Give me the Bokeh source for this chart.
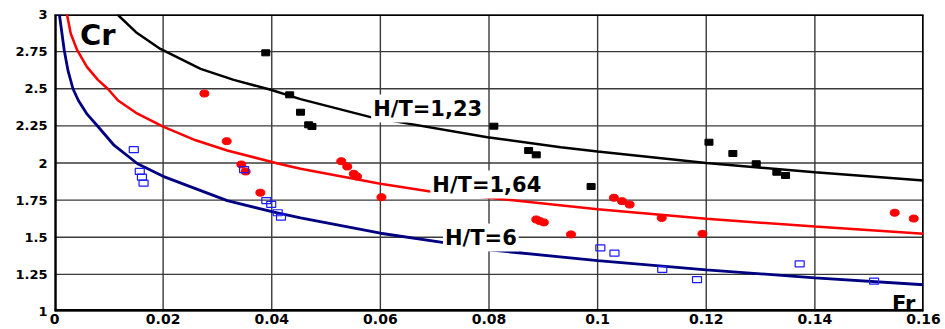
from bokeh.plotting import figure
from bokeh.models import FixedTicker, Label
from bokeh.embed import file_html
from bokeh.resources import INLINE

# ---- tick labels ----
x_ticks = [0, 0.02, 0.04, 0.06, 0.08, 0.1, 0.12, 0.14, 0.16]
x_tick_labels = ["0", "0.02", "0.04", "0.06", "0.08", "0.1", "0.12", "0.14", "0.16"]
y_ticks = [1, 1.25, 1.5, 1.75, 2, 2.25, 2.5, 2.75, 3]
y_tick_labels = ["1", "1.25", "1.5", "1.75", "2", "2.25", "2.5", "2.75", "3"]

# ---- curves ----
curve_123_fr = [0.0116, 0.015, 0.0195, 0.0269, 0.033, 0.0398, 0.0453, 0.0582, 0.0797, 0.0932, 0.100, 0.120, 0.140, 0.160]
curve_123_cr = [3.0, 2.881, 2.768, 2.634, 2.56, 2.493, 2.43, 2.309, 2.174, 2.106, 2.077, 2.000, 1.938, 1.882]

curve_164_fr = [0.0023, 0.003, 0.0042, 0.006, 0.008, 0.0098, 0.0117, 0.015, 0.020, 0.026, 0.0318, 0.0413, 0.0453, 0.060, 0.0689, 0.080, 0.100, 0.120, 0.140, 0.160]
curve_164_cr = [3.0, 2.87, 2.758, 2.646, 2.56, 2.50, 2.421, 2.338, 2.245, 2.153, 2.084, 1.995, 1.961, 1.86, 1.81, 1.766, 1.688, 1.624, 1.572, 1.523]

curve_6_fr = [0.0009, 0.0018, 0.0025, 0.0034, 0.0044, 0.006, 0.008, 0.011, 0.0153, 0.020, 0.0318, 0.0404, 0.0453, 0.060, 0.0711, 0.080, 0.100, 0.120, 0.140, 0.160]
curve_6_cr = [3.0, 2.758, 2.62, 2.50, 2.421, 2.329, 2.246, 2.118, 1.995, 1.91, 1.747, 1.669, 1.631, 1.527, 1.467, 1.415, 1.343, 1.281, 1.227, 1.180]

# ---- measured points ----
pts_123_fr = [0.0389, 0.0433, 0.0453, 0.0468, 0.0474, 0.0809, 0.0873, 0.0887, 0.0988, 0.1205, 0.1249, 0.1292, 0.1330, 0.1346]
pts_123_cr = [2.742, 2.459, 2.342, 2.257, 2.246, 2.248, 2.084, 2.055, 1.842, 2.140, 2.064, 1.995, 1.938, 1.916]

pts_164_fr = [0.0276, 0.0317, 0.0344, 0.0352, 0.0379, 0.0528, 0.0539, 0.0551, 0.0557, 0.0602, 0.0887, 0.0893, 0.0901, 0.0951, 0.1030, 0.1045, 0.1059, 0.1118, 0.1193, 0.1547, 0.1582]
pts_164_cr = [2.468, 2.147, 1.990, 1.943, 1.800, 2.012, 1.976, 1.927, 1.909, 1.770, 1.620, 1.610, 1.600, 1.519, 1.766, 1.743, 1.720, 1.630, 1.523, 1.665, 1.626]

pts_6_fr = [0.0146, 0.0157, 0.0161, 0.0164, 0.0349, 0.0390, 0.0399, 0.0411, 0.0417, 0.1005, 0.1031, 0.1119, 0.1183, 0.1372, 0.1509]
pts_6_cr = [2.090, 1.943, 1.905, 1.864, 1.956, 1.747, 1.722, 1.665, 1.635, 1.429, 1.393, 1.283, 1.215, 1.321, 1.204]

FONT = "DejaVu Sans"
GRID = "#3a3a3a"

p = figure(width=945, height=329, x_range=(0, 0.16), y_range=(1, 3),
           output_backend="svg", toolbar_location=None,
           min_border_left=54, min_border_right=22, min_border_top=14, min_border_bottom=18)
p.outline_line_color = None
p.grid.visible = False

p.xaxis.ticker = FixedTicker(ticks=x_ticks)
p.yaxis.ticker = FixedTicker(ticks=y_ticks)
p.xaxis.major_label_overrides = {t: l for t, l in zip(x_ticks, x_tick_labels)}
p.yaxis.major_label_overrides = {t: l for t, l in zip(y_ticks, y_tick_labels)}

for ax in (p.xaxis, p.yaxis):
    ax.axis_line_color = None
    ax.major_tick_in = 0
    ax.major_tick_out = 0
    ax.minor_tick_in = 0
    ax.minor_tick_out = 0
    ax.major_label_text_font = FONT
    ax.major_label_text_font_style = "bold"
    ax.major_label_text_color = "black"
p.xaxis.major_label_text_font_size = "14px"
p.yaxis.major_label_text_font_size = "13px"
p.xaxis.major_label_standoff = 2
p.yaxis.major_label_standoff = 7

# grid lines as thin filled bands at the tick values
x_lo, x_hi = x_ticks[0], x_ticks[-1]
y_lo, y_hi = y_ticks[0], y_ticks[-1]
x_mid, y_mid = (x_lo + x_hi) / 2, (y_lo + y_hi) / 2
p.rect(x=x_ticks, y=[y_mid] * len(x_ticks), width=1.4, width_units="screen",
       height=y_hi - y_lo, fill_color=GRID, line_color=None)
p.rect(x=[x_mid] * len(y_ticks), y=y_ticks, width=x_hi - x_lo, height=1.4,
       height_units="screen", fill_color=GRID, line_color=None)
# frame edges (left axis, bottom axis, top, right)
p.rect(x=[x_lo, x_hi], y=[y_mid, y_mid], width=[4.5, 3], width_units="screen",
       height=y_hi - y_lo, fill_color="black", line_color=None)
p.rect(x=[x_mid, x_mid], y=[y_lo, y_hi], width=x_hi - x_lo, height=[5, 3],
       height_units="screen", fill_color="black", line_color=None)

# curves
p.line(curve_123_fr, curve_123_cr, line_color="black", line_width=2.5)
p.line(curve_164_fr, curve_164_cr, line_color="#ff0000", line_width=2.5)
p.line(curve_6_fr, curve_6_cr, line_color="#000080", line_width=2.8)

# points
p.rect(pts_123_fr, pts_123_cr, width=8, height=6, width_units="screen", height_units="screen",
       fill_color="black", line_color="black")
p.ellipse(pts_164_fr, pts_164_cr, width=9, height=7, width_units="screen", height_units="screen",
          fill_color="#ff0000", line_color="#ff0000")
p.rect(pts_6_fr, pts_6_cr, width=9, height=6, width_units="screen", height_units="screen",
       fill_color=None, line_color="#1a1aff", line_width=1.2)

# labels
def lab(x, y, txt, size, align="center", baseline="middle", bg=True):
    l = Label(x=x, y=y, text=txt, text_font=FONT, text_font_style="bold",
              text_font_size=size, text_color="black", text_align=align,
              text_baseline=baseline)
    if bg:
        l.background_fill_color = "white"
        l.padding = 2
    p.add_layout(l)

lab(0.0687, 2.367, "H/T=1,23", "21px")
lab(0.0796, 1.855, "H/T=1,64", "21px")
lab(0.0785, 1.498, "H/T=6", "21px")
lab(0.0047, 2.862, "Cr", "29px", align="left", bg=False)
lab(0.1542, 1.052, "Fr", "21px", align="left", bg=False)

open("out.html", "w").write(file_html(p, INLINE))
